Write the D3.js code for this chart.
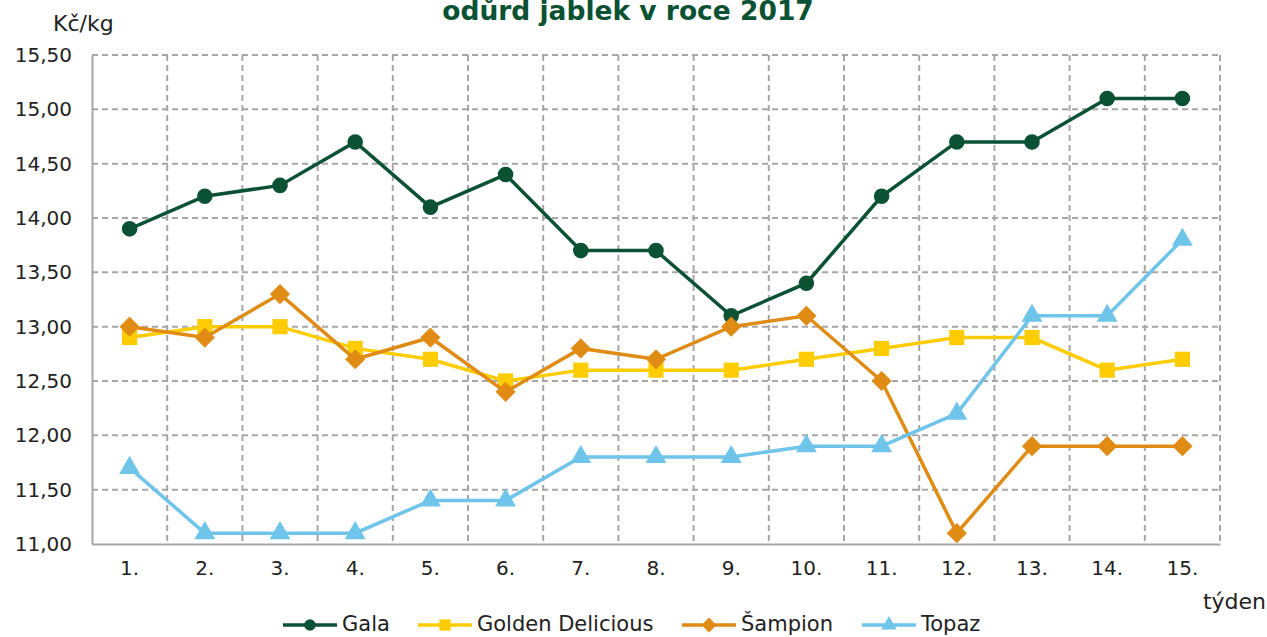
<!DOCTYPE html>
<html lang="cs">
  <head>
    <meta charset="UTF-8" />
    <title>Ceny jablek 2017</title>
    <script src="https://cdn.jsdelivr.net/npm/d3@7"></script>
    <style>
      body { margin: 0; background: #fff; }
      svg { display: block; }
    </style>
  </head>
  <body>
    <svg width="1267" height="637"></svg>
    <script>
      // týdny a ceny (Kč/kg)
      const weeks = ["1.", "2.", "3.", "4.", "5.", "6.", "7.", "8.", "9.", "10.", "11.", "12.", "13.", "14.", "15."];
      const gala = [13.9, 14.2, 14.3, 14.7, 14.1, 14.4, 13.7, 13.7, 13.1, 13.4, 14.2, 14.7, 14.7, 15.1, 15.1];
      const golden = [12.9, 13.0, 13.0, 12.8, 12.7, 12.5, 12.6, 12.6, 12.6, 12.7, 12.8, 12.9, 12.9, 12.6, 12.7];
      const sampion = [13.0, 12.9, 13.3, 12.7, 12.9, 12.4, 12.8, 12.7, 13.0, 13.1, 12.5, 11.1, 11.9, 11.9, 11.9];
      const topaz = [11.7, 11.1, 11.1, 11.1, 11.4, 11.4, 11.8, 11.8, 11.8, 11.9, 11.9, 12.2, 13.1, 13.1, 13.8];
      const yTicks = [11, 11.5, 12, 12.5, 13, 13.5, 14, 14.5, 15, 15.5];

      const series = [
        { name: "Gala", values: gala, color: "#0b5134", symbol: d3.symbolCircle, size: 190 },
        { name: "Golden Delicious", values: golden, color: "#ffcc00", symbol: d3.symbolSquare, size: 230 },
        { name: "Šampion", values: sampion, color: "#e08b14", symbol: d3.symbolDiamond2, size: 260 },
        { name: "Topaz", values: topaz, color: "#6fc4ea", symbol: d3.symbolTriangle, size: 190 }
      ];

      const svg = d3.select("svg");
      const plotL = 92, plotR = 1220, plotT = 55, plotB = 544;

      const x = d3.scaleBand().domain(weeks).range([plotL, plotR]);
      const y = d3.scaleLinear().domain([11, 15.5]).range([plotB, plotT]);

      const fmt = d => d3.format(".2f")(d).replace(".", ",");

      // mřížka
      svg.append("g")
        .selectAll("line")
        .data(yTicks.slice(1))
        .join("line")
        .attr("x1", plotL).attr("x2", plotR)
        .attr("y1", d => y(d)).attr("y2", d => y(d))
        .attr("stroke", "#a6a6a6").attr("stroke-width", 2)
        .attr("stroke-dasharray", "6,4");
      const vx = weeks.slice(1).map(w => x(w)).concat([plotR]);
      svg.append("g")
        .selectAll("line")
        .data(vx)
        .join("line")
        .attr("x1", d => d).attr("x2", d => d)
        .attr("y1", plotT).attr("y2", plotB)
        .attr("stroke", "#a6a6a6").attr("stroke-width", 2)
        .attr("stroke-dasharray", "6,4");

      // osy
      const yAxis = svg.append("g")
        .attr("transform", `translate(${plotL},0)`)
        .call(d3.axisLeft(y).tickValues(yTicks).tickFormat(fmt).tickSize(0).tickPadding(20));
      yAxis.select(".domain").attr("stroke", "#a6a6a6").attr("stroke-width", 2);
      yAxis.selectAll("text")
        .attr("font-family", "DejaVu Sans").attr("font-size", 20).attr("fill", "#222");

      const xAxis = svg.append("g")
        .attr("transform", `translate(0,${plotB})`)
        .call(d3.axisBottom(x).tickSize(0).tickPadding(17));
      xAxis.select(".domain").attr("stroke", "#a6a6a6").attr("stroke-width", 2);
      xAxis.selectAll("text")
        .attr("font-family", "DejaVu Sans").attr("font-size", 20).attr("fill", "#222");

      // řady
      const line = d3.line()
        .x((d, i) => x(weeks[i]) + x.bandwidth() / 2)
        .y(d => y(d));

      series.forEach(s => {
        svg.append("path")
          .datum(s.values)
          .attr("d", line)
          .attr("fill", "none")
          .attr("stroke", s.color)
          .attr("stroke-width", 3.5);
        svg.append("g")
          .selectAll("path")
          .data(s.values)
          .join("path")
          .attr("transform", (d, i) => `translate(${x(weeks[i]) + x.bandwidth() / 2},${y(d)})`)
          .attr("d", d3.symbol(s.symbol, s.size))
          .attr("fill", s.color);
      });

      // texty
      svg.append("text")
        .attr("x", 628).attr("y", 20)
        .attr("text-anchor", "middle")
        .attr("font-family", "DejaVu Sans").attr("font-weight", "bold")
        .attr("font-size", 26.5).attr("fill", "#0b5134")
        .text("odůrd jablek v roce 2017");

      svg.append("text")
        .attr("x", 53).attr("y", 31)
        .attr("font-family", "DejaVu Sans").attr("font-size", 22).attr("fill", "#222")
        .text("Kč/kg");

      svg.append("text")
        .attr("x", 1266).attr("y", 609)
        .attr("text-anchor", "end")
        .attr("font-family", "DejaVu Sans").attr("font-size", 22).attr("fill", "#222")
        .text("týden");

      // legenda
      const legX = [283, 418, 682, 862];
      const legend = svg.append("g")
        .selectAll("g")
        .data(series)
        .join("g")
        .attr("transform", (d, i) => `translate(${legX[i]},625)`);
      legend.append("line")
        .attr("x1", 0).attr("x2", 54)
        .attr("stroke", d => d.color).attr("stroke-width", 3.5);
      legend.append("path")
        .attr("transform", "translate(27,0)")
        .attr("d", d => d3.symbol(d.symbol, d.size * 0.55)())
        .attr("fill", d => d.color);
      legend.append("text")
        .attr("x", 59).attr("y", 6)
        .attr("font-family", "DejaVu Sans").attr("font-size", 21).attr("fill", "#222")
        .text(d => d.name);
    </script>
  </body>
</html>
